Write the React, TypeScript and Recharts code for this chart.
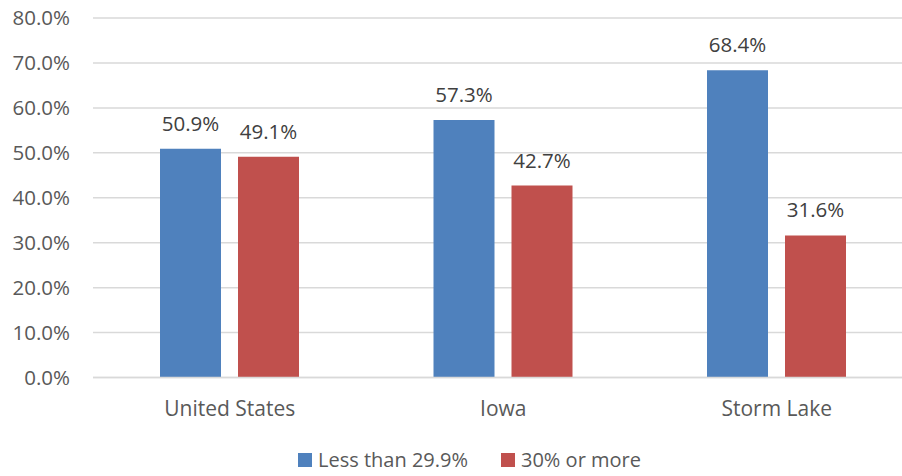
import React from 'react';
import { BarChart, Bar, XAxis, YAxis, CartesianGrid, LabelList, Legend } from 'recharts';

const categories = ['United States', 'Iowa', 'Storm Lake'];
const lessThan = [50.9, 57.3, 68.4];
const thirtyOrMore = [49.1, 42.7, 31.6];
const yTicks = [0, 10, 20, 30, 40, 50, 60, 70, 80];
const seriesNames = ['Less than 29.9%', '30% or more'];
const seriesColors = ['#4F81BD', '#C0504D'];

const data = categories.map((c, i) => ({ name: c, a: lessThan[i], b: thirtyOrMore[i] }));

const FONT = '"Open Sans", sans-serif';

const LegendContent = () => (
  <div style={{ display: 'flex', alignItems: 'center', fontFamily: FONT, fontSize: 20, color: '#595959', whiteSpace: 'nowrap' }}>
    {seriesNames.map((n, i) => (
      <div key={n} style={{ display: 'flex', alignItems: 'center', marginRight: i === 0 ? 33 : 0 }}>
        <div style={{ width: 14, height: 14, background: seriesColors[i], marginRight: 6 }} />
        <span>{n}</span>
      </div>
    ))}
  </div>
);

export default function App() {
  return (
    <div style={{ width: 902, height: 476, overflow: 'hidden', background: '#fff' }}>
      <style>{'html,body{margin:0;padding:0;}'}</style>
      <BarChart
        width={920}
        height={476}
        data={data}
        margin={{ top: 18, right: 6.5, bottom: 68.5, left: 0 }}
        barSize={61}
        barGap={17}
      >
        <CartesianGrid vertical={false} stroke="#D9D9D9" strokeWidth={1.5} />
        <XAxis
          dataKey="name"
          height={30}
          tickLine={false}
          axisLine={{ stroke: '#D9D9D9', strokeWidth: 1.5 }}
          tickMargin={18}
          tick={{ fill: '#595959', fontSize: 21, fontFamily: FONT }}
        />
        <YAxis
          width={93}
          domain={[0, 80]}
          ticks={yTicks}
          interval={0}
          tickLine={false}
          axisLine={false}
          tickMargin={17}
          tickFormatter={(v: number) => v.toFixed(1) + '%'}
          tick={{ fill: '#595959', fontSize: 20.5, fontFamily: FONT }}
        />
        <Legend
          layout="horizontal"
          verticalAlign="middle"
          align="center"
          content={<LegendContent />}
          wrapperStyle={{ top: 446, left: 298, width: 500, height: 30 }}
        />
        <Bar dataKey="a" name={seriesNames[0]} fill={seriesColors[0]} isAnimationActive={false}>
          <LabelList
            dataKey="a"
            position="top"
            offset={18}
            formatter={(v: number) => v.toFixed(1) + '%'}
            style={{ fill: '#404040', fontSize: 20.5, fontFamily: FONT }}
          />
        </Bar>
        <Bar dataKey="b" name={seriesNames[1]} fill={seriesColors[1]} isAnimationActive={false}>
          <LabelList
            dataKey="b"
            position="top"
            offset={18}
            formatter={(v: number) => v.toFixed(1) + '%'}
            style={{ fill: '#404040', fontSize: 20.5, fontFamily: FONT }}
          />
        </Bar>
      </BarChart>
    </div>
  );
}
